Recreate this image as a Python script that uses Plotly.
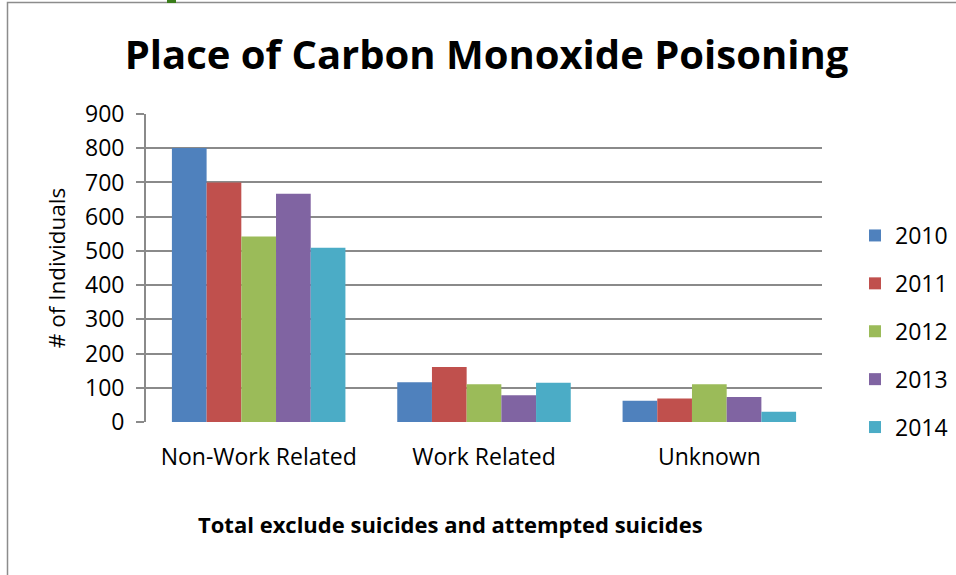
import plotly.graph_objects as go

categories = ["Non-Work Related", "Work Related", "Unknown"]
years = ["2010", "2011", "2012", "2013", "2014"]
values_2010 = [801, 116, 62]
values_2011 = [700, 161, 69]
values_2012 = [542, 110, 110]
values_2013 = [667, 78, 73]
values_2014 = [509, 115, 30]
series = [values_2010, values_2011, values_2012, values_2013, values_2014]
colors = ["#4F81BD", "#C0504D", "#9BBB59", "#8064A2", "#4BACC6"]
y_ticks = [0, 100, 200, 300, 400, 500, 600, 700, 800, 900]

FONT = "Open Sans"

fig = go.Figure()
for name, vals, col in zip(years, series, colors):
    fig.add_trace(go.Bar(name=name, x=categories, y=vals, legendgroup=name,
                         marker=dict(color=col, line=dict(width=0))))

L, R, T, B = 146, 134, 114, 153
W, H = 956, 575
pw, ph = W - L - R, H - T - B

def px_x(p):
    return (p - L) / pw

def px_y(p):
    return (H - B - p) / ph

fig.update_layout(
    width=W, height=H,
    margin=dict(l=L, r=R, t=T, b=B, autoexpand=False),
    paper_bgcolor="white", plot_bgcolor="white",
    barmode="group", bargap=0.23, bargroupgap=0,
    font=dict(family=FONT, color="black", size=22),
    title=dict(text="<b>Place of Carbon Monoxide Poisoning</b>", x=px_x(490), xanchor="center",
               y=1 - 55 / H, yanchor="middle", font=dict(size=40, family=FONT)),
    xaxis=dict(showgrid=False, showline=False, ticks="", tickfont=dict(size=23), ticklabelstandoff=19),
    yaxis=dict(range=[0, 900], tickvals=y_ticks, showgrid=True, gridcolor="#8a8a8a", gridwidth=1.8,
               showline=True, linecolor="#8a8a8a", linewidth=1.8, ticks="outside", ticklen=8,
               tickcolor="#8a8a8a", tickwidth=1.8, zeroline=False, tickfont=dict(size=23),
               ticklabelstandoff=7,
               title=dict(text="# of Individuals", font=dict(size=22.5), standoff=13)),
    legend=dict(x=px_x(855), xanchor="left", y=px_y(214), yanchor="top", font=dict(size=23),
                tracegroupgap=15, itemwidth=30, traceorder="grouped"),
    showlegend=True,
)

fig.add_annotation(text="<b>Total exclude suicides and attempted suicides</b>", xref="paper", yref="paper",
                   x=px_x(450), y=px_y(524), xanchor="center", yanchor="middle", showarrow=False,
                   font=dict(size=22, family=FONT))

fig.add_shape(type="rect", xref="paper", yref="paper", x0=px_x(7.5), x1=px_x(1100), y0=px_y(700), y1=px_y(2.5),
              line=dict(color="#8c8c8c", width=1.5), fillcolor="rgba(0,0,0,0)", layer="below")
fig.add_shape(type="rect", xref="paper", yref="paper", x0=px_x(167), x1=px_x(176), y0=px_y(3), y1=px_y(-2),
              line=dict(width=0), fillcolor="#3a7d1a")

fig.write_html("out.html", config={"displayModeBar": False},
               post_script="document.body.style.margin='0';document.body.style.overflow='hidden';")
